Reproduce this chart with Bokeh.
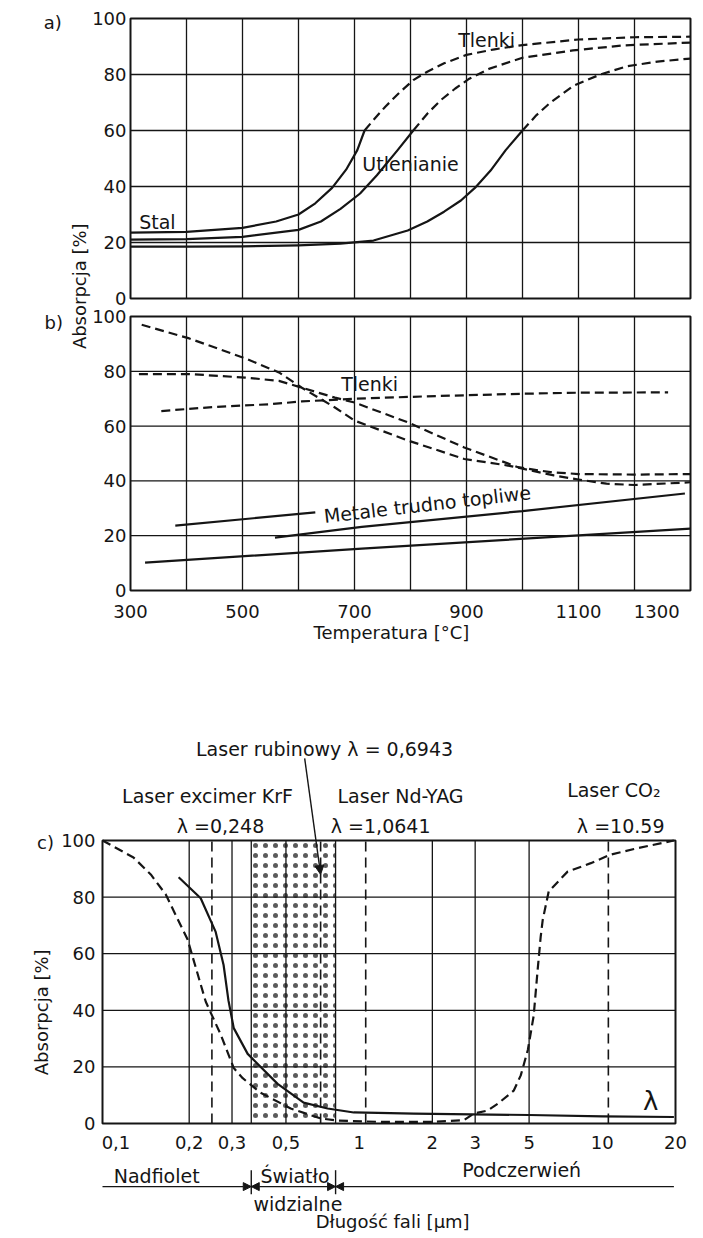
from bokeh.plotting import figure
from bokeh.models import (Range1d, LinearAxis, LogAxis, FixedTicker, Label, Arrow,
                          NormalHead)
from bokeh.layouts import column
from bokeh.embed import file_html
from bokeh.resources import INLINE
import math

FONT = "DejaVu Sans"
INK = "#151515"

# ---------------- panel a: steel, absorption vs temperature ----------------
T_MIN, T_MAX = 300, 1300
temp_ticks = [300, 500, 700, 900, 1100, 1300]
temp_tick_text = ["300", "500", "700", "900", "1100", "1300\u2007\u2007"]
temp_grid = [400, 500, 600, 700, 800, 900, 1000, 1100, 1200]
abs_ticks = [0, 20, 40, 60, 80, 100]
abs_grid = [20, 40, 60, 80]

a1_solid_T = [300, 400, 500, 560, 600, 630, 660, 685, 705, 718]
a1_solid_v = [23.5, 23.8, 25.2, 27.5, 30, 34, 39.5, 46, 53, 60]
a1_dash_T = [718, 735, 755, 780, 805, 830, 860, 900, 950, 1000, 1100, 1200, 1300]
a1_dash_v = [60, 64, 68.5, 73.5, 78, 81, 84, 87, 89, 90.5, 92.5, 93.3, 93.5]

a2_solid_T = [300, 400, 500, 600, 640, 675, 710, 740, 777, 805]
a2_solid_v = [21, 21.2, 22, 24.5, 27.5, 32, 37.5, 44, 53, 60]
a2_dash_T = [805, 830, 855, 880, 905, 940, 1000, 1090, 1180, 1300]
a2_dash_v = [60, 66, 71, 75, 78.5, 82, 86, 88.6, 90.4, 91.4]

a3_solid_T = [300, 400, 500, 600, 675, 734, 795, 830, 860, 890, 915, 943, 970, 1000]
a3_solid_v = [18.5, 18.5, 18.6, 19, 19.6, 20.7, 24.3, 27.5, 31, 35, 39.5, 45.7, 53, 60]
a3_dash_T = [1000, 1025, 1050, 1091, 1139, 1188, 1241, 1300]
a3_dash_v = [60, 65.5, 70, 76, 80, 83, 84.6, 85.7]

# ---------------- panel b: oxides / refractory metals ----------------
bA_T = [320, 405, 505, 565, 606, 665, 700, 796, 896, 974, 1056, 1100, 1150, 1200, 1300]
bA_v = [97, 92, 84.7, 79.6, 74, 66.8, 62, 54.7, 48, 45.6, 42, 40.5, 39, 38.5, 39.5]
bB_T = [315, 405, 505, 565, 606, 665, 700, 796, 896, 992, 1050, 1100, 1200, 1300]
bB_v = [79, 79, 77.7, 76.5, 74, 70.4, 68.6, 61.3, 52.2, 45, 43.2, 42.5, 42.3, 42.5]
bC_T = [355, 450, 550, 606, 700, 850, 1000, 1100, 1260]
bC_v = [65.5, 67, 68, 69, 70, 71, 71.8, 72.2, 72.3]
bM1_T = [380, 630]
bM1_v = [23.7, 28.5]
bM2_T = [558, 713, 1000, 1290]
bM2_v = [19.3, 23.2, 29, 35.4]
bM3_T = [326, 713, 1300]
bM3_v = [10.2, 15.3, 22.6]

# ---------------- panel c: absorption vs wavelength ----------------
WL_MIN, WL_MAX = 0.088, 20
wl_ticks = [0.1, 0.2, 0.3, 0.5, 1, 2, 3, 5, 10, 20]
wl_tick_text = ["0,1", "0,2", "0,3", "0,5", "1", "2", "3", "5", "10", "20"]
wl_grid = [0.2, 0.3, 0.5, 2, 3, 5]
visible = [0.36, 0.8]
lasers = [0.248, 0.6943, 1.0641, 10.59]

c_dash_x = [0.088, 0.118, 0.139, 0.16, 0.197, 0.234, 0.269, 0.305, 0.332, 0.393, 0.523,
            0.694, 0.816, 1.2, 2.0, 2.7, 2.96, 3.38, 3.72, 4.32, 4.62, 4.94, 5.22, 5.43,
            5.58, 5.69, 6.02, 7.2, 8.97, 10.8, 13.5, 19.7]
c_dash_y = [100, 94, 88, 81, 65, 43, 31.6, 19.6, 16, 10.9, 5.3,
            1.8, 1, 0.6, 0.6, 1.2, 3.5, 4.6, 7, 11.6, 17, 26, 38, 55,
            66, 72, 82, 89, 92, 95, 97, 100]
c_solid_x = [0.181, 0.223, 0.257, 0.277, 0.290, 0.305, 0.348, 0.462, 0.591, 0.742, 0.95,
             1.68, 5.0, 10, 19.7]
c_solid_y = [87, 79.6, 67.7, 56, 43.5, 33.7, 24.6, 14, 7.4, 5.3, 3.9,
             3.5, 3.0, 2.5, 2.3]

DASH = "9 5"
LW = 2.2
GRID_W = 1.3
BOX_W = 2.0
TXT = "19px"

# page layout (pixels)
W = 702
H_AB, H_C = 660, 574


def overrides(ticks, texts):
    d = {}
    for t, s in zip(ticks, texts):
        d[float(t)] = s
        d[str(t)] = s
    return d


def style_axis(ax, size="18px", standoff=5):
    ax.axis_line_color = None
    ax.major_tick_in = 0
    ax.major_tick_out = 0
    ax.minor_tick_in = 0
    ax.minor_tick_out = 0
    ax.major_label_standoff = standoff
    ax.major_label_text_font = FONT
    ax.major_label_text_font_size = size
    ax.major_label_text_color = INK


def label(p, x, y, text, size=TXT, align="center", angle=0, yr="default"):
    p.add_layout(Label(x=x, y=y, text=text, text_font=FONT, text_font_size=size,
                       text_color=INK, text_align=align, text_baseline="middle",
                       angle=angle, angle_units="deg", y_range_name=yr))


def base_fig(h, xr, yr, **kw):
    f = figure(width=W, height=h, output_backend="svg", toolbar_location=None,
               x_range=xr, y_range=yr, x_axis_location=None, y_axis_location=None,
               min_border=0, min_border_left=0, min_border_right=0,
               min_border_top=0, min_border_bottom=0,
               background_fill_color="white", border_fill_color="white", **kw)
    f.outline_line_color = None
    f.grid.visible = False
    return f


# ================= figure with panels a and b =================
# panel frames: x 130..690 px ; a: y 18..298 px ; b: y 316..590 px
sx = (690 - 130) / (T_MAX - T_MIN)
xr_ab = Range1d(T_MIN - 130 / sx, T_MAX + (W - 690) / sx)
sya = (298 - 18) / 100
yr_a = Range1d(100 - H_AB / sya + 18 / sya, 100 + 18 / sya)
syb = (590 - 316) / 100
yr_b = Range1d(-(H_AB - 590) / syb, 590 / syb)

p = base_fig(H_AB, xr_ab, yr_a)
p.extra_y_ranges = {"b": yr_b}

ax_a = LinearAxis(fixed_location=T_MIN, ticker=FixedTicker(ticks=abs_ticks))
style_axis(ax_a, standoff=4)
p.add_layout(ax_a, "left")
ax_b = LinearAxis(fixed_location=T_MIN, y_range_name="b", ticker=FixedTicker(ticks=abs_ticks))
style_axis(ax_b, standoff=4)
p.add_layout(ax_b, "left")
ax_t = LinearAxis(fixed_location=0, y_range_name="b", ticker=FixedTicker(ticks=temp_ticks),
                  major_label_overrides=overrides(temp_ticks, temp_tick_text))
style_axis(ax_t, standoff=10)
p.add_layout(ax_t, "below")

for yrn in ("default", "b"):
    p.segment(x0=temp_grid, y0=0, x1=temp_grid, y1=100, line_color=INK,
              line_width=GRID_W, y_range_name=yrn)
    p.segment(x0=T_MIN, y0=abs_grid, x1=T_MAX, y1=abs_grid, line_color=INK,
              line_width=GRID_W, y_range_name=yrn)
    p.quad(left=[T_MIN], right=[T_MAX], bottom=[0], top=[100], fill_color=None,
           line_color=INK, line_width=BOX_W, y_range_name=yrn)

for T, v in ((a1_solid_T, a1_solid_v), (a2_solid_T, a2_solid_v), (a3_solid_T, a3_solid_v)):
    p.line(T, v, line_color=INK, line_width=LW, line_join="round")
for T, v in ((a1_dash_T, a1_dash_v), (a2_dash_T, a2_dash_v), (a3_dash_T, a3_dash_v)):
    p.line(T, v, line_color=INK, line_width=LW, line_dash=DASH, line_join="round")

for T, v in ((bA_T, bA_v), (bB_T, bB_v), (bC_T, bC_v)):
    p.line(T, v, line_color=INK, line_width=LW, line_dash=DASH, y_range_name="b",
           line_join="round")
for T, v in ((bM1_T, bM1_v), (bM2_T, bM2_v), (bM3_T, bM3_v)):
    p.line(T, v, line_color=INK, line_width=LW, y_range_name="b")

label(p, 161, 98.6, "a)", "18px")
label(p, 163, 97.8, "b)", "18px", yr="b")
label(p, 209, 5.4, "Absorpcja  [%]", "18px", angle=90)
label(p, 771, -15.3, "Temperatura  [°C]", "18px", yr="b")
label(p, 348, 27.5, "Stal")
label(p, 800, 48, "Utlenianie")
label(p, 936, 92.5, "Tlenki")
label(p, 727, 75.5, "Tlenki", yr="b")
label(p, 830, 31.5, "Metale trudno topliwe", angle=6.6, yr="b")

# ================= panel c =================
# frame: x 102..675 px (log 0.088..20), y 180..463 px inside this canvas
dec_px = (675 - 102) / math.log10(WL_MAX / WL_MIN)
xr_c = Range1d(WL_MIN * 10 ** (-102 / dec_px), WL_MAX * 10 ** ((W - 675) / dec_px))
syc = (463 - 180) / 100
yr_c = Range1d(-(H_C - 463) / syc, 100 + 180 / syc)

pc = base_fig(H_C, xr_c, yr_c, x_axis_type="log")

ax_w = LogAxis(fixed_location=0, ticker=FixedTicker(ticks=wl_ticks),
               major_label_overrides=overrides(wl_ticks, wl_tick_text))
style_axis(ax_w, standoff=12)
pc.add_layout(ax_w, "below")
ax_c = LinearAxis(fixed_location=WL_MIN, ticker=FixedTicker(ticks=abs_ticks))
style_axis(ax_c, standoff=7)
pc.add_layout(ax_c, "left")

# visible light band (stippled)
pc.quad(left=[visible[0]], right=[visible[1]], bottom=[0], top=[100],
        fill_color="white", fill_alpha=0.0, line_color=None,
        hatch_pattern="dot", hatch_scale=10, hatch_weight=1.6,
        hatch_color=INK, hatch_alpha=0.7)

vlines = wl_grid + visible
pc.segment(x0=vlines, y0=0, x1=vlines, y1=100, line_color=INK, line_width=GRID_W)
pc.segment(x0=WL_MIN, y0=abs_grid, x1=WL_MAX, y1=abs_grid, line_color=INK,
           line_width=GRID_W)
pc.segment(x0=lasers, y0=0, x1=lasers, y1=100, line_color=INK, line_width=1.6,
           line_dash="10 6")

pc.line(c_dash_x, c_dash_y, line_color=INK, line_width=LW, line_dash=DASH, line_join="round")
pc.line(c_solid_x, c_solid_y, line_color=INK, line_width=LW, line_join="round")
pc.quad(left=[WL_MIN], right=[WL_MAX], bottom=[0], top=[100], fill_color=None,
        line_color=INK, line_width=BOX_W)

label(pc, 0.0513, 99.3, "c)", "18px")
label(pc, 0.0494, 40.3, "Absorpcja  [%]", "18px", angle=90)
label(pc, 0.763, 132.5, "Laser  rubinowy  λ = 0,6943")
label(pc, 0.238, 115.9, "Laser excimer KrF")
label(pc, 1.48, 115.9, "Laser Nd-YAG")
label(pc, 0.269, 105.3, "λ =0,248")
label(pc, 1.226, 105.3, "λ =1,0641")
label(pc, 11.16, 117.7, "Laser CO₂")
label(pc, 11.9, 105.3, "λ =10.59")
label(pc, 15.8, 8.1, "λ", "26px")

pc.add_layout(Arrow(x_start=0.597, y_start=129, x_end=lasers[1], y_end=88,
                    line_color=INK, line_width=1.4,
                    end=NormalHead(size=9, fill_color=INK, line_color=INK)))

# spectral ranges under the axis
YB = -22.3
head = dict(size=8, fill_color=INK, line_color=INK)
pc.add_layout(Arrow(x_start=WL_MIN, y_start=YB, x_end=visible[0], y_end=YB,
                    line_color=INK, line_width=1.4, end=NormalHead(**head)))
pc.add_layout(Arrow(x_start=visible[0], y_start=YB, x_end=visible[1], y_end=YB,
                    line_color=INK, line_width=1.4,
                    start=NormalHead(**head), end=NormalHead(**head)))
pc.add_layout(Arrow(x_start=19.7, y_start=YB, x_end=visible[1], y_end=YB,
                    line_color=INK, line_width=1.4, end=NormalHead(**head)))
pc.segment(x0=visible, y0=-16.5, x1=visible, y1=-25, line_color=INK, line_width=1.4)

label(pc, 0.147, -18.4, "Nadfiolet")
label(pc, 0.545, -18.4, "Światło")
label(pc, 0.56, -28.3, "widzialne")
label(pc, 4.66, -16.6, "Podczerwień")
label(pc, 1.45, -34.6, "Długość  fali  [µm]", "18px")

layout = column(p, pc)
open("out.html", "w").write(file_html(layout, INLINE))
